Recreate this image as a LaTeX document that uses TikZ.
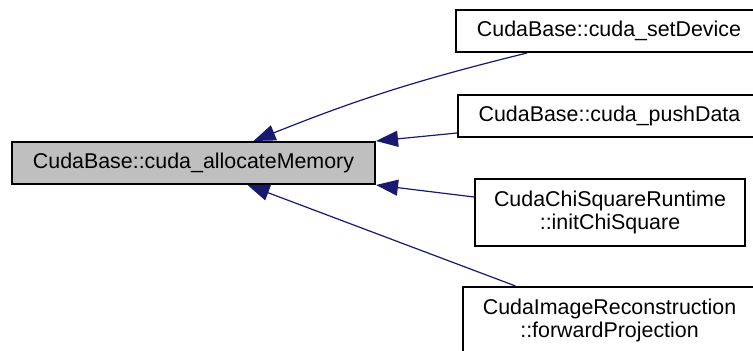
\documentclass[tikz,border=0pt]{standalone}
\usepackage{fontspec}
\setmainfont{Liberation Sans}
\usetikzlibrary{arrows.meta}

\definecolor{edgeblue}{HTML}{191970}
\definecolor{nodegray}{HTML}{BFBFBF}

\begin{document}
\begin{tikzpicture}[
        x=0.5pt,
        y=-0.5pt,
        font=\fontsize{10.7}{11.5}\selectfont,
        % function box
        funcbox/.style={
            rectangle,
            draw=black,
            line width=1pt,
            fill=white,
            inner sep=0pt,
            minimum height=21pt,
            align=center
        },
        % box of the documented function
        rootbox/.style={
            funcbox,
            fill=nodegray
        },
        % caller edge, arrow points at the callee
        callarrow/.style={
            -{Triangle[length=11pt,width=8pt]},
            color=edgeblue,
            line width=0.6pt
        }
    ]

    \useasboundingbox (0,0) rectangle (753,351);
    \clip (0,0) rectangle (753,351);
    \fill[white] (0,0) rectangle (753,351);

    % --- 1. nodes ---

    % callee (left)
    \node (alloc) [rootbox, minimum width=181.5pt] at (193.5,163) {CudaBase::cuda\_allocateMemory};

    % callers (right)
    \node (setdev) [funcbox, minimum width=153pt] at (609,31) {CudaBase::cuda\_setDevice};
    \node (push) [funcbox, minimum width=151.5pt] at (609.5,116) {CudaBase::cuda\_pushData};
    \node (chisq) [funcbox, minimum width=135pt, minimum height=33.5pt] at (610,212.5) {CudaChiSquareRuntime\\::initChiSquare};
    \node (fwdproj) [funcbox, minimum width=146.5pt, minimum height=33.5pt] at (609.5,320.5) {CudaImageReconstruction\\::forwardProjection};

    % --- 2. edges ---

    \draw[callarrow] ([xshift=-41pt]setdev.south) to[bend right=4] ([xshift=30pt]alloc.north);
    \draw[callarrow] ([yshift=-8.5pt]push.west) -- (alloc.north east);
    \draw[callarrow] ([yshift=7.75pt]chisq.west) -- (alloc.south east);
    \draw[callarrow] ([xshift=-47pt]fwdproj.north) -- ([xshift=27pt]alloc.south);

\end{tikzpicture}
\end{document}
